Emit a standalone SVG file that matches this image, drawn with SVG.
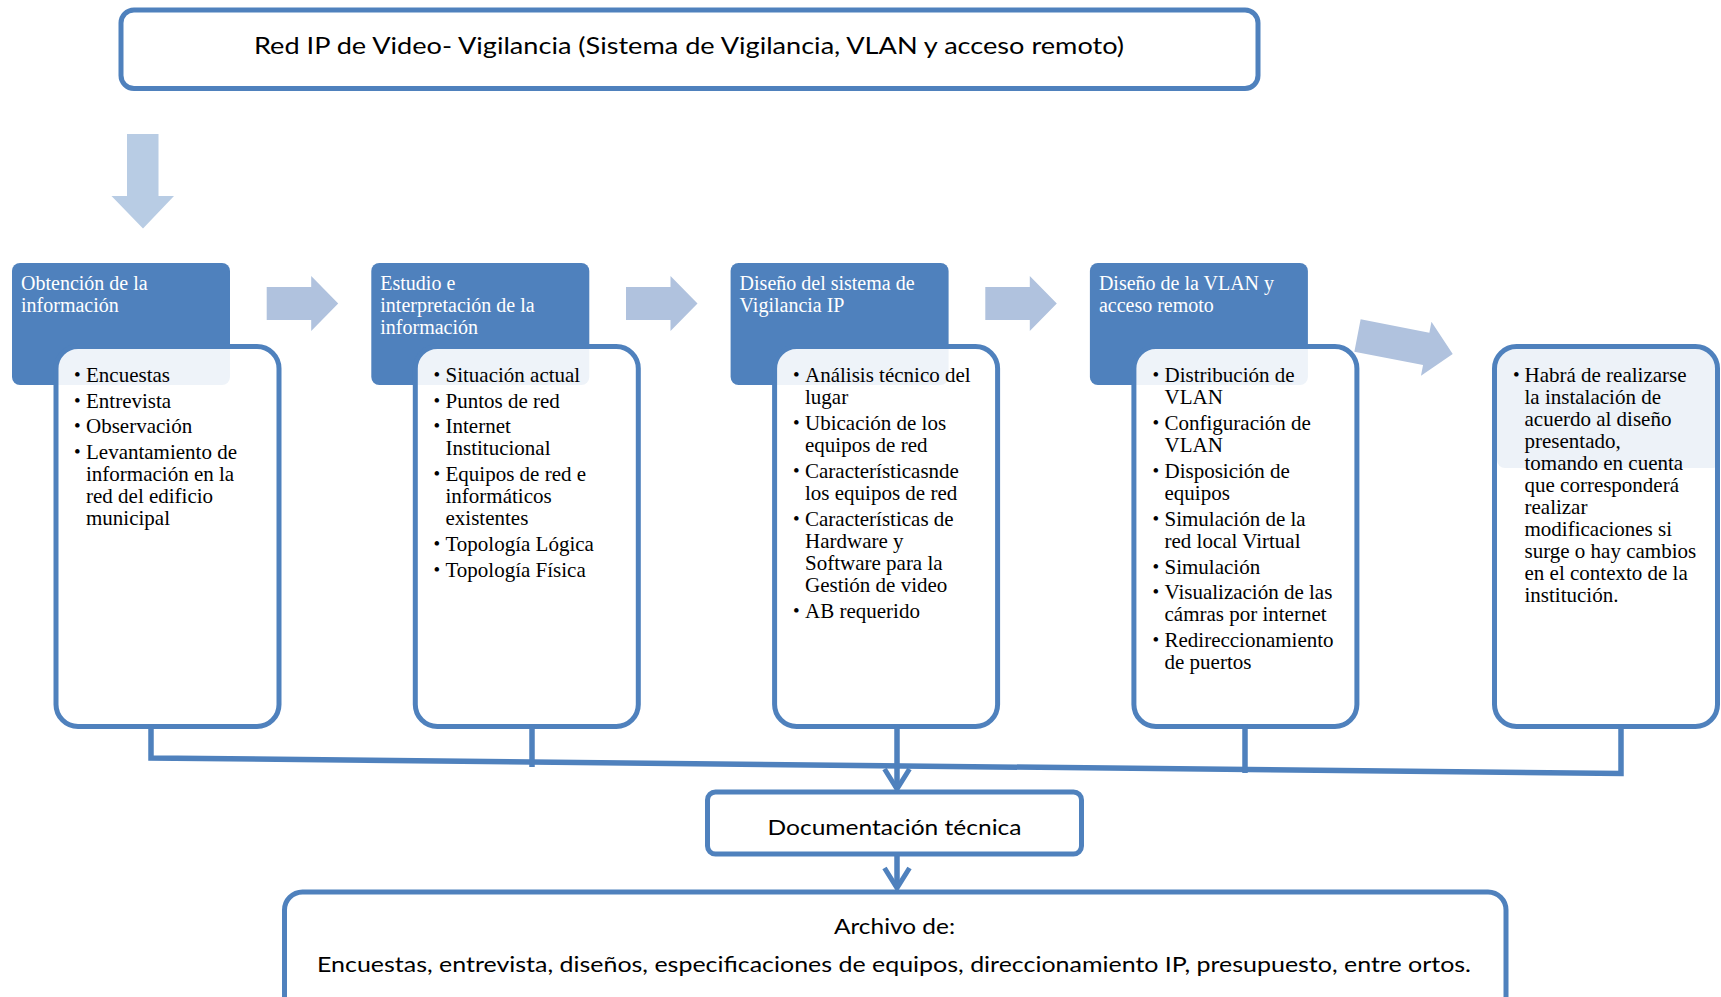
<svg xmlns="http://www.w3.org/2000/svg" xmlns:xlink="http://www.w3.org/1999/xlink" width="1721" height="997" viewBox="0 0 1721 997">
  <style>
    .frame { fill: #ffffff; stroke: #4f81bd; stroke-width: 5; }
    .hdr { fill: #4f81bd; }
    .box { fill: #ffffff; fill-opacity: 0.9; stroke: #4f81bd; stroke-width: 5; }
    .ht { font-family: "Liberation Serif", "Times New Roman", serif; font-size: 20px; fill: #ffffff; }
    .bt { font-family: "Liberation Serif", "Times New Roman", serif; font-size: 21px; fill: #000000; }
    .dot { font-family: "Liberation Serif", "Times New Roman", serif; font-size: 19px; fill: #000000; }
    .sans { font-family: Lato, "Open Sans", "Liberation Sans", sans-serif; fill: #000000; }
    .flow { fill: #b0c2de; }
    .flow-down { fill: #b8cce4; }
    .conn { fill: none; stroke: #4f81bd; stroke-width: 5.5; stroke-linejoin: miter; }
  </style>
  <defs>
    <path id="harrow" d="M0,-16.5 H44.5 V-27.5 L71.5,0 L44.5,27.5 V16.5 H0 Z"/>
    <marker id="vhead" markerUnits="userSpaceOnUse" orient="auto" viewBox="-24 -16 28 32" refX="0" refY="0" markerWidth="28" markerHeight="32">
      <path d="M-20,-12.5 L0,0 L-20,12.5" fill="none" stroke="#4f81bd" stroke-width="5" stroke-linejoin="miter"/>
    </marker>
    <clipPath id="clip5">
      <rect x="1494.5" y="346.5" width="223" height="380" rx="22"/>
    </clipPath>
  </defs>

  <rect width="1721" height="997" fill="#ffffff"/>

  <!-- heading -->
  <g id="title">
    <rect class="frame" x="121" y="10" width="1137" height="78.5" rx="13"/>
    <text class="sans" x="689" y="54" font-size="24" text-anchor="middle" textLength="870" lengthAdjust="spacingAndGlyphs">Red IP de Video- Vigilancia (Sistema de Vigilancia, VLAN y acceso remoto)</text>
  </g>

  <!-- block arrows of the process flow -->
  <g id="flow-arrows">
    <path class="flow-down" d="M127,134 H158.5 V196 H174 L143,228.5 L111.5,196 H127 Z"/>
    <use href="#harrow" class="flow" x="266.7" y="303.5"/>
    <use href="#harrow" class="flow" x="626" y="303.5"/>
    <use href="#harrow" class="flow" x="985.3" y="303.5"/>
    <path class="flow" d="M0,-16.5 H70 V-27.5 L97,0 L70,27.5 V16.5 H0 Z" transform="translate(1357.5,335.5) rotate(11)"/>
  </g>

  <!-- step 1 -->
  <g id="step-1">
    <rect class="hdr" x="12" y="263" width="218" height="122" rx="8"/>
    <rect class="box" x="56" y="346.5" width="223" height="380" rx="22"/>
    <text class="ht"><tspan x="21" y="290">Obtención de la</tspan><tspan x="21" y="312">información</tspan></text>
    <text class="dot"><tspan x="74" y="381">•</tspan><tspan x="74" y="407">•</tspan><tspan x="74" y="432">•</tspan><tspan x="74" y="458">•</tspan></text>
    <text class="bt">
      <tspan x="86" y="382">Encuestas</tspan>
      <tspan x="86" y="408">Entrevista</tspan>
      <tspan x="86" y="433">Observación</tspan>
      <tspan x="86" y="459">Levantamiento de</tspan>
      <tspan x="86" y="481">información en la</tspan>
      <tspan x="86" y="503">red del edificio</tspan>
      <tspan x="86" y="525">municipal</tspan>
    </text>
  </g>

  <!-- step 2 -->
  <g id="step-2">
    <rect class="hdr" x="371.3" y="263" width="218" height="122" rx="8"/>
    <rect class="box" x="415.3" y="346.5" width="223" height="380" rx="22"/>
    <text class="ht"><tspan x="380.3" y="290">Estudio e</tspan><tspan x="380.3" y="312">interpretación de la</tspan><tspan x="380.3" y="334">información</tspan></text>
    <text class="dot"><tspan x="433.5" y="381">•</tspan><tspan x="433.5" y="406.5">•</tspan><tspan x="433.5" y="432">•</tspan><tspan x="433.5" y="479.5">•</tspan><tspan x="433.5" y="550">•</tspan><tspan x="433.5" y="575.5">•</tspan></text>
    <text class="bt">
      <tspan x="445.5" y="382">Situación actual</tspan>
      <tspan x="445.5" y="407.5">Puntos de red</tspan>
      <tspan x="445.5" y="433">Internet</tspan>
      <tspan x="445.5" y="455">Institucional</tspan>
      <tspan x="445.5" y="480.5">Equipos de red e</tspan>
      <tspan x="445.5" y="502.5">informáticos</tspan>
      <tspan x="445.5" y="524.5">existentes</tspan>
      <tspan x="445.5" y="551">Topología Lógica</tspan>
      <tspan x="445.5" y="576.5">Topología Física</tspan>
    </text>
  </g>

  <!-- step 3 -->
  <g id="step-3">
    <rect class="hdr" x="730.6" y="263" width="218" height="122" rx="8"/>
    <rect class="box" x="774.6" y="346.5" width="223" height="380" rx="22"/>
    <text class="ht"><tspan x="739.6" y="290">Diseño del sistema de</tspan><tspan x="739.6" y="312">Vigilancia IP</tspan></text>
    <text class="dot"><tspan x="793" y="381">•</tspan><tspan x="793" y="429">•</tspan><tspan x="793" y="477">•</tspan><tspan x="793" y="525">•</tspan><tspan x="793" y="616.5">•</tspan></text>
    <text class="bt">
      <tspan x="805" y="382">Análisis técnico del</tspan>
      <tspan x="805" y="404">lugar</tspan>
      <tspan x="805" y="430">Ubicación de los</tspan>
      <tspan x="805" y="452">equipos de red</tspan>
      <tspan x="805" y="478">Característicasnde</tspan>
      <tspan x="805" y="500">los equipos de red</tspan>
      <tspan x="805" y="526">Características de</tspan>
      <tspan x="805" y="548">Hardware y</tspan>
      <tspan x="805" y="570">Software para la</tspan>
      <tspan x="805" y="592">Gestión de video</tspan>
      <tspan x="805" y="617.5">AB requerido</tspan>
    </text>
  </g>

  <!-- step 4 -->
  <g id="step-4">
    <rect class="hdr" x="1089.9" y="263" width="218" height="122" rx="8"/>
    <rect class="box" x="1133.9" y="346.5" width="223" height="380" rx="22"/>
    <text class="ht"><tspan x="1098.9" y="290">Diseño de la VLAN y</tspan><tspan x="1098.9" y="312">acceso remoto</tspan></text>
    <text class="dot"><tspan x="1152.5" y="381">•</tspan><tspan x="1152.5" y="429">•</tspan><tspan x="1152.5" y="477">•</tspan><tspan x="1152.5" y="525">•</tspan><tspan x="1152.5" y="572.5">•</tspan><tspan x="1152.5" y="598">•</tspan><tspan x="1152.5" y="646">•</tspan></text>
    <text class="bt">
      <tspan x="1164.5" y="382">Distribución de</tspan>
      <tspan x="1164.5" y="404">VLAN</tspan>
      <tspan x="1164.5" y="430">Configuración de</tspan>
      <tspan x="1164.5" y="452">VLAN</tspan>
      <tspan x="1164.5" y="478">Disposición de</tspan>
      <tspan x="1164.5" y="500">equipos</tspan>
      <tspan x="1164.5" y="526">Simulación de la</tspan>
      <tspan x="1164.5" y="548">red local Virtual</tspan>
      <tspan x="1164.5" y="573.5">Simulación</tspan>
      <tspan x="1164.5" y="599">Visualización de las</tspan>
      <tspan x="1164.5" y="621">cámras por internet</tspan>
      <tspan x="1164.5" y="647">Redireccionamiento</tspan>
      <tspan x="1164.5" y="669">de puertos</tspan>
    </text>
  </g>

  <!-- step 5 -->
  <g id="step-5">
    <rect x="1494.5" y="346.5" width="223" height="380" rx="22" fill="#ffffff"/>
    <rect x="1497" y="344" width="224" height="124" rx="8" fill="#edf2f8" clip-path="url(#clip5)"/>
    <rect x="1494.5" y="346.5" width="223" height="380" rx="22" fill="none" stroke="#4f81bd" stroke-width="5"/>
    <text class="dot"><tspan x="1513" y="381">•</tspan></text>
    <text class="bt">
      <tspan x="1524.5" y="382">Habrá de realizarse</tspan>
      <tspan x="1524.5" y="404">la instalación de</tspan>
      <tspan x="1524.5" y="426">acuerdo al diseño</tspan>
      <tspan x="1524.5" y="448">presentado,</tspan>
      <tspan x="1524.5" y="470">tomando en cuenta</tspan>
      <tspan x="1524.5" y="492">que corresponderá</tspan>
      <tspan x="1524.5" y="514">realizar</tspan>
      <tspan x="1524.5" y="536">modificaciones si</tspan>
      <tspan x="1524.5" y="558">surge o hay cambios</tspan>
      <tspan x="1524.5" y="580">en el contexto de la</tspan>
      <tspan x="1524.5" y="602">institución.</tspan>
    </text>
  </g>

  <!-- technical documentation -->
  <g id="documentacion">
    <rect class="frame" x="707.5" y="792" width="374" height="62" rx="8"/>
    <text class="sans" x="894.5" y="835" font-size="22" text-anchor="middle" textLength="254" lengthAdjust="spacingAndGlyphs">Documentación técnica</text>
  </g>

  <!-- archive -->
  <g id="archivo">
    <rect class="frame" x="284.5" y="892" width="1221.5" height="140" rx="18"/>
    <text class="sans" x="894.5" y="934" font-size="22" text-anchor="middle" textLength="121" lengthAdjust="spacingAndGlyphs">Archivo de:</text>
    <text class="sans" x="894" y="972" font-size="22" text-anchor="middle" textLength="1154" lengthAdjust="spacingAndGlyphs">Encuestas, entrevista, diseños, especificaciones de equipos, direccionamiento IP, presupuesto, entre ortos.</text>
  </g>

  <!-- connectors -->
  <g id="connectors">
    <path class="conn" d="M151,724 V758 L1621,773.5 V724"/>
    <line class="conn" x1="532" y1="724" x2="532" y2="767"/>
    <line class="conn" x1="1245" y1="724" x2="1245" y2="773"/>
    <line class="conn" x1="897" y1="724" x2="897" y2="789" marker-end="url(#vhead)"/>
    <line class="conn" x1="897" y1="855" x2="897" y2="888" marker-end="url(#vhead)"/>
  </g>
</svg>
